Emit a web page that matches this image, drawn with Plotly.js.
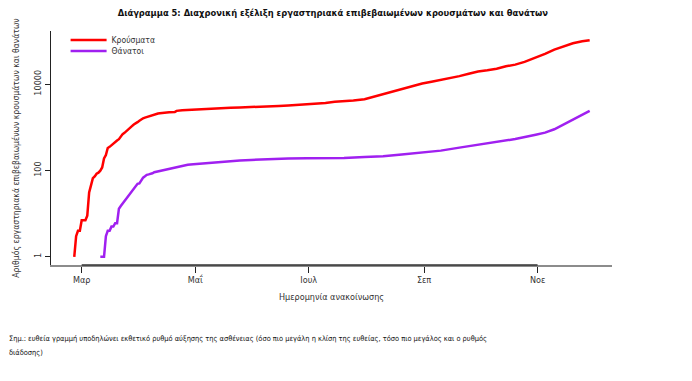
<!DOCTYPE html>
<html>
<head>
<meta charset="utf-8">
<script src="https://cdn.plot.ly/plotly-3.0.1.min.js"></script>
<style>
html,body{margin:0;padding:0;background:#fff;}
#chart{width:692px;height:381px;}
</style>
</head>
<body>
<div id="chart"></div>
<script>
// Cumulative confirmed cases (announcement date)
var caseDates = ['2020-02-26','2020-02-27','2020-02-28','2020-02-29','2020-03-01','2020-03-02','2020-03-03','2020-03-04','2020-03-05','2020-03-06','2020-03-07','2020-03-08','2020-03-09','2020-03-10','2020-03-11','2020-03-12','2020-03-13','2020-03-14','2020-03-15','2020-03-16','2020-03-17','2020-03-18','2020-03-19','2020-03-20','2020-03-21','2020-03-22','2020-03-23','2020-03-24','2020-03-25','2020-03-26','2020-03-27','2020-03-28','2020-03-29','2020-03-30','2020-03-31','2020-04-01','2020-04-02','2020-04-03','2020-04-04','2020-04-05','2020-04-06','2020-04-07','2020-04-08','2020-04-09','2020-04-10','2020-04-11','2020-04-12','2020-04-13','2020-04-14','2020-04-15','2020-04-17','2020-04-20','2020-04-21','2020-04-24','2020-04-27','2020-04-30','2020-05-05','2020-05-10','2020-05-15','2020-05-20','2020-05-25','2020-05-31','2020-06-05','2020-06-10','2020-06-15','2020-06-20','2020-06-25','2020-06-30','2020-07-05','2020-07-10','2020-07-15','2020-07-20','2020-07-25','2020-07-31','2020-08-05','2020-08-10','2020-08-15','2020-08-20','2020-08-25','2020-08-31','2020-09-05','2020-09-10','2020-09-15','2020-09-20','2020-09-25','2020-09-30','2020-10-05','2020-10-10','2020-10-15','2020-10-20','2020-10-25','2020-10-31','2020-11-05','2020-11-10','2020-11-15','2020-11-20','2020-11-25','2020-11-29'];
var caseValues = [1,3,4,4,7,7,7,9,31,45,66,73,84,89,99,117,190,228,331,352,387,418,464,495,530,624,695,743,821,892,966,1061,1156,1212,1314,1415,1544,1613,1673,1735,1755,1832,1884,1955,2011,2081,2114,2145,2170,2192,2224,2245,2401,2490,2534,2591,2632,2710,2819,2850,2878,2915,2980,3058,3121,3203,3302,3432,3562,3672,3883,4007,4193,4477,5123,5942,6858,7684,8819,10317,11386,12452,13730,15318,17444,19613,20947,22652,25802,28216,32752,40929,50262,62988,74205,88000,98000,104000];

// Cumulative deaths
var deathDates = ['2020-03-11','2020-03-12','2020-03-13','2020-03-14','2020-03-15','2020-03-16','2020-03-17','2020-03-18','2020-03-19','2020-03-20','2020-03-21','2020-03-22','2020-03-23','2020-03-24','2020-03-25','2020-03-26','2020-03-27','2020-03-28','2020-03-29','2020-03-30','2020-03-31','2020-04-01','2020-04-02','2020-04-03','2020-04-04','2020-04-05','2020-04-06','2020-04-07','2020-04-08','2020-04-09','2020-04-10','2020-04-12','2020-04-14','2020-04-16','2020-04-18','2020-04-21','2020-04-24','2020-04-27','2020-04-30','2020-05-05','2020-05-10','2020-05-15','2020-05-20','2020-05-25','2020-05-31','2020-06-10','2020-06-20','2020-06-30','2020-07-10','2020-07-20','2020-07-31','2020-08-10','2020-08-20','2020-08-31','2020-09-10','2020-09-20','2020-09-30','2020-10-10','2020-10-20','2020-10-31','2020-11-05','2020-11-10','2020-11-15','2020-11-20','2020-11-25','2020-11-29'];
var deathValues = [1,1,1,3,4,4,5,5,6,6,13,15,17,20,22,26,28,32,38,43,49,50,59,68,73,79,81,83,86,91,93,99,102,108,113,121,130,136,140,146,151,160,166,171,175,183,190,192,193,194,206,213,235,266,288,338,393,449,534,673,753,900,1165,1480,1950,2400];

var seriesNames = ['Κρούσματα','Θάνατοι'];
var seriesColors = ['#ff0000','#a020f0'];

var xTickVals = ['2020-03-01','2020-05-01','2020-07-01','2020-09-01','2020-11-01'];
var xTickText = ['Μαρ','Μαΐ','Ιουλ','Σεπ','Νοε'];
var yTickVals = [1,100,10000];
var yTickText = ['1','100','10000'];

var FONT = 'Liberation Sans Narrow, DejaVu Sans Condensed, Liberation Sans, sans-serif';

var traces = [
  {x: caseDates, y: caseValues, name: seriesNames[0], type: 'scatter', mode: 'lines',
   line: {color: seriesColors[0], width: 2.5}, legend: 'legend'},
  {x: deathDates, y: deathValues, name: seriesNames[1], type: 'scatter', mode: 'lines',
   line: {color: seriesColors[1], width: 2.5}, legend: 'legend2'}
];

var legendStyle = function (yTop) {
  return {x: 0.026, y: yTop, xanchor: 'left', yanchor: 'top', bgcolor: 'rgba(0,0,0,0)',
          itemwidth: 36, font: {family: FONT, size: 8.5, color: '#333333'}, tracegroupgap: 0};
};

var layout = {
  width: 692, height: 381,
  margin: {l: 51, r: 80, t: 31, b: 116},
  paper_bgcolor: '#ffffff', plot_bgcolor: '#ffffff',
  font: {family: FONT, size: 9, color: '#222222'},
  showlegend: true,
  legend: legendStyle(1.023),
  legend2: legendStyle(0.976),
  title: {text: '<b>Διάγραμμα 5: Διαχρονική εξέλιξη εργαστηριακά επιβεβαιωμένων κρουσμάτων και θανάτων</b>',
          font: {family: FONT, size: 9.3, color: '#111111'},
          x: 0.481, xanchor: 'center', xref: 'container', y: 0.966, yanchor: 'middle', yref: 'container'},
  xaxis: {
    type: 'date', range: ['2020-02-13 12:00', '2020-12-11'],
    tickmode: 'array', tickvals: xTickVals, ticktext: xTickText,
    showgrid: false, zeroline: false,
    showline: true, linecolor: '#8c8c8c', linewidth: 1.5,
    ticks: 'outside', ticklen: 6, tickwidth: 1, tickcolor: '#222222',
    tickfont: {family: FONT, size: 9, color: '#333333'},
    title: {text: 'Ημερομηνία ανακοίνωσης', font: {family: FONT, size: 9, color: '#333333'}, standoff: 9},
    automargin: false, fixedrange: true
  },
  yaxis: {
    type: 'log', range: [-0.19, 5.23],
    tickmode: 'array', tickvals: yTickVals, ticktext: yTickText,
    tickangle: -90,
    showgrid: false, zeroline: false,
    showline: true, linecolor: '#222222', linewidth: 1,
    ticks: 'outside', ticklen: 5, tickwidth: 1, tickcolor: '#222222',
    tickfont: {family: FONT, size: 9, color: '#333333'},
    title: {text: 'Αριθμός εργαστηριακά επιβεβαιωμένων κρουσμάτων και θανάτων', font: {family: FONT, size: 8.6, color: '#333333'}, standoff: 12},
    automargin: false, fixedrange: true
  },
  shapes: [
    {type: 'line', xref: 'x', yref: 'paper', x0: xTickVals[0], x1: xTickVals[xTickVals.length - 1], y0: 0, y1: 0,
     line: {color: '#333333', width: 1.5}}
  ],
  annotations: [
    {text: 'Σημ.: ευθεία γραμμή υποδηλώνει εκθετικό ρυθμό αύξησης της ασθένειας (όσο πιο μεγάλη η κλίση της ευθείας, τόσο πιο μεγάλος και ο ρυθμός',
     xref: 'paper', yref: 'paper', x: -0.0784, y: -0.316, xanchor: 'left', yanchor: 'middle', showarrow: false,
     font: {family: FONT, size: 7.4, color: '#111111'}},
    {text: 'διάδοσης)',
     xref: 'paper', yref: 'paper', x: -0.0784, y: -0.372, xanchor: 'left', yanchor: 'middle', showarrow: false,
     font: {family: FONT, size: 7.4, color: '#111111'}}
  ]
};

Plotly.newPlot('chart', traces, layout, {staticPlot: true, displayModeBar: false});
</script>
</body>
</html>
